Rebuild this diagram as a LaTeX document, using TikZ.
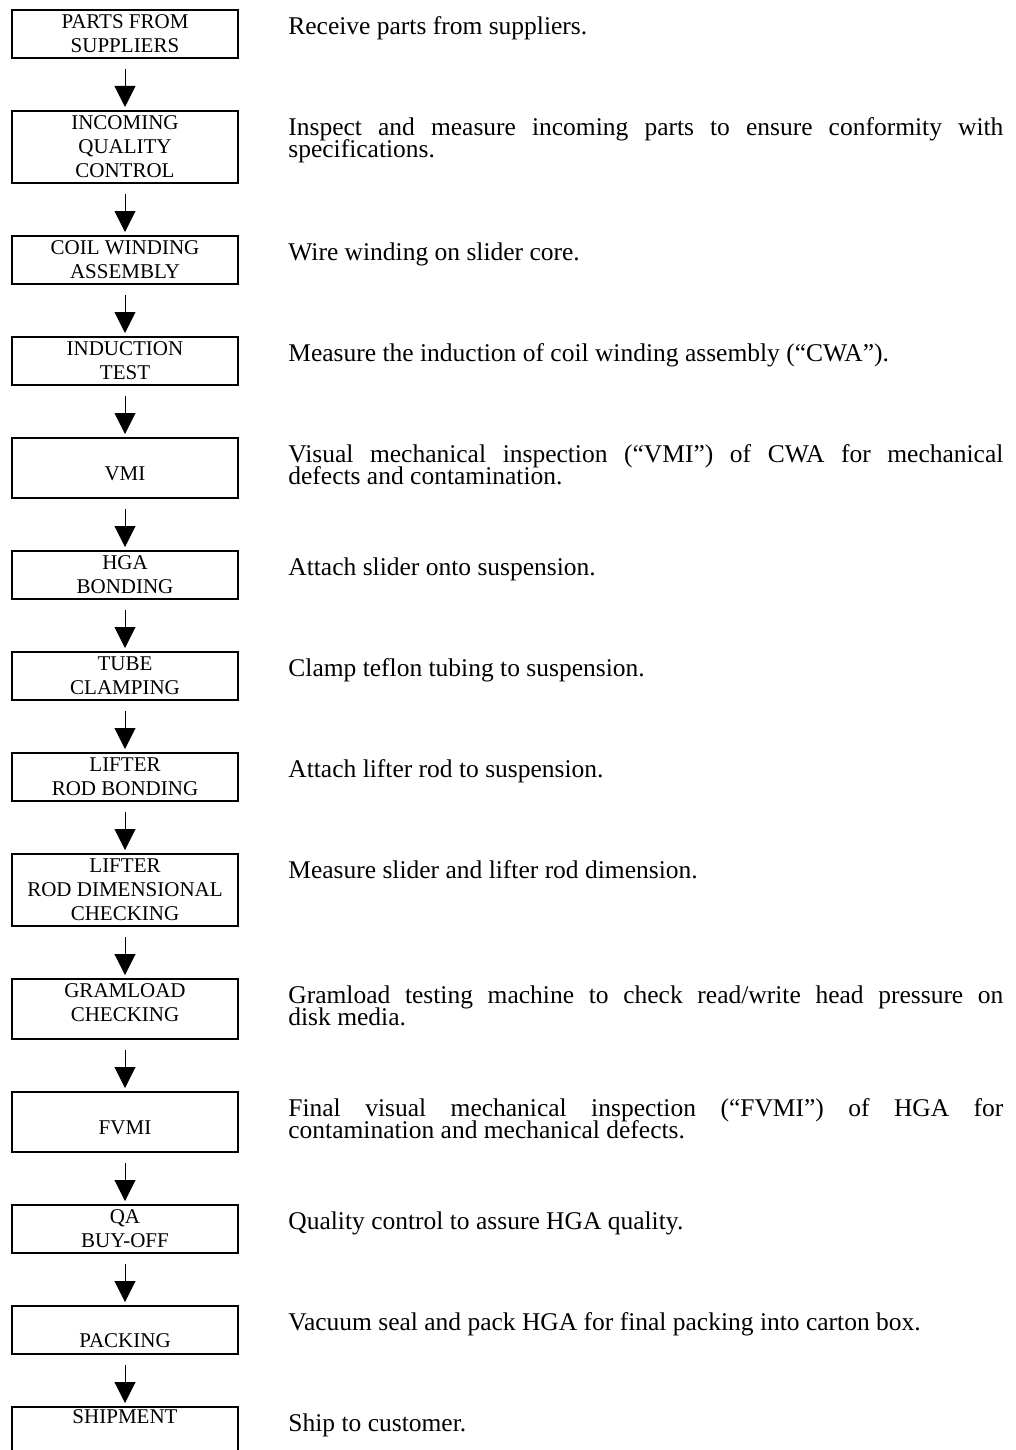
\documentclass[tikz,border=0pt]{standalone}
\usepackage{fontspec}
\setmainfont{Liberation Serif}
\usepackage{tikz}
\usetikzlibrary{arrows.meta}
\usetikzlibrary{positioning}

\newcommand{\boxfont}{\fontsize{10.5pt}{12pt}\selectfont}
\newcommand{\descfont}{\fontsize{12.75pt}{11.25pt}\selectfont\lineskiplimit=-10pt\hyphenpenalty=10000}
\newcommand{\descstrut}{\rule{0pt}{10pt}}
\newcommand{\shifttext}[2]{\raisebox{#1}[\height][\depth]{#2}}

\tikzset{
    stage/.style={draw, line width=1pt, minimum width=113pt, minimum height=24pt, inner sep=0pt, align=center, font=\boxfont},
    tallstage/.style={stage, minimum height=36pt},
    midstage/.style={stage, minimum height=30pt},
    desc/.style={anchor=north west, inner sep=0pt, yshift=-2.5pt, text width=357.5pt, align=justify, font=\descfont},
    flow/.style={-{Triangle[width=10.5pt,length=10.5pt]}, line width=0.5pt, shorten <=5pt, shorten >=1.5pt}
}

\begin{document}
\begin{tikzpicture}[node distance=25.5pt]
    \useasboundingbox (0,0) rectangle (508pt,-725pt);
    \coordinate (desccol) at (144pt,0);

    \node[stage, anchor=north] (parts) at (62.5pt,-4.5pt) {PARTS FROM\\SUPPLIERS};
    \node[tallstage, below=of parts] (iqc) {INCOMING\\QUALITY\\CONTROL};
    \node[stage, below=of iqc] (cwa) {COIL WINDING\\ASSEMBLY};
    \node[stage, below=of cwa] (induction) {INDUCTION\\TEST};
    \node[midstage, below=of induction] (vmi) {\shifttext{-3pt}{VMI}};
    \node[stage, below=of vmi] (hga) {HGA\\BONDING};
    \node[stage, below=of hga] (tube) {TUBE\\CLAMPING};
    \node[stage, below=of tube] (lifter) {LIFTER\\ROD BONDING};
    \node[tallstage, below=of lifter] (liftercheck) {LIFTER\\ROD DIMENSIONAL\\CHECKING};
    \node[midstage, below=of liftercheck] (gramload) {\shifttext{3pt}{GRAMLOAD}\\\shifttext{3pt}{CHECKING}};
    \node[midstage, below=of gramload] (fvmi) {\shifttext{-3pt}{FVMI}};
    \node[stage, below=of fvmi] (qa) {QA\\BUY-OFF};
    \node[stage, below=of qa] (packing) {\shifttext{-5.5pt}{PACKING}};
    \node[midstage, below=of packing] (shipment) {\shifttext{10pt}{SHIPMENT}};

    \draw[flow] (parts.south) -- (iqc.north);
    \draw[flow] (iqc.south) -- (cwa.north);
    \draw[flow] (cwa.south) -- (induction.north);
    \draw[flow] (induction.south) -- (vmi.north);
    \draw[flow] (vmi.south) -- (hga.north);
    \draw[flow] (hga.south) -- (tube.north);
    \draw[flow] (tube.south) -- (lifter.north);
    \draw[flow] (lifter.south) -- (liftercheck.north);
    \draw[flow] (liftercheck.south) -- (gramload.north);
    \draw[flow] (gramload.south) -- (fvmi.north);
    \draw[flow] (fvmi.south) -- (qa.north);
    \draw[flow] (qa.south) -- (packing.north);
    \draw[flow] (packing.south) -- (shipment.north);

    \node[desc] (dparts) at (parts.north -| desccol) {\descstrut Receive parts from suppliers.};
    \node[desc] (diqc) at (iqc.north -| desccol) {\descstrut Inspect and measure incoming parts to ensure conformity with\linebreak specifications.};
    \node[desc] (dcwa) at (cwa.north -| desccol) {\descstrut Wire winding on slider core.};
    \node[desc] (dinduction) at (induction.north -| desccol) {\descstrut Measure the induction of coil winding assembly (“CWA”).};
    \node[desc] (dvmi) at (vmi.north -| desccol) {\descstrut Visual mechanical inspection (“VMI”) of CWA for mechanical\linebreak defects and contamination.};
    \node[desc] (dhga) at (hga.north -| desccol) {\descstrut Attach slider onto suspension.};
    \node[desc] (dtube) at (tube.north -| desccol) {\descstrut Clamp teflon tubing to suspension.};
    \node[desc] (dlifter) at (lifter.north -| desccol) {\descstrut Attach lifter rod to suspension.};
    \node[desc] (dliftercheck) at (liftercheck.north -| desccol) {\descstrut Measure slider and lifter rod dimension.};
    \node[desc] (dgramload) at (gramload.north -| desccol) {\descstrut Gramload testing machine to check read/write head pressure on\linebreak disk media.};
    \node[desc] (dfvmi) at (fvmi.north -| desccol) {\descstrut Final visual mechanical inspection (“FVMI”) of HGA for\linebreak contamination and mechanical defects.};
    \node[desc] (dqa) at (qa.north -| desccol) {\descstrut Quality control to assure HGA quality.};
    \node[desc] (dpacking) at (packing.north -| desccol) {\descstrut Vacuum seal and pack HGA for final packing into carton box.};
    \node[desc] (dshipment) at (shipment.north -| desccol) {\descstrut Ship to customer.};
\end{tikzpicture}
\end{document}
